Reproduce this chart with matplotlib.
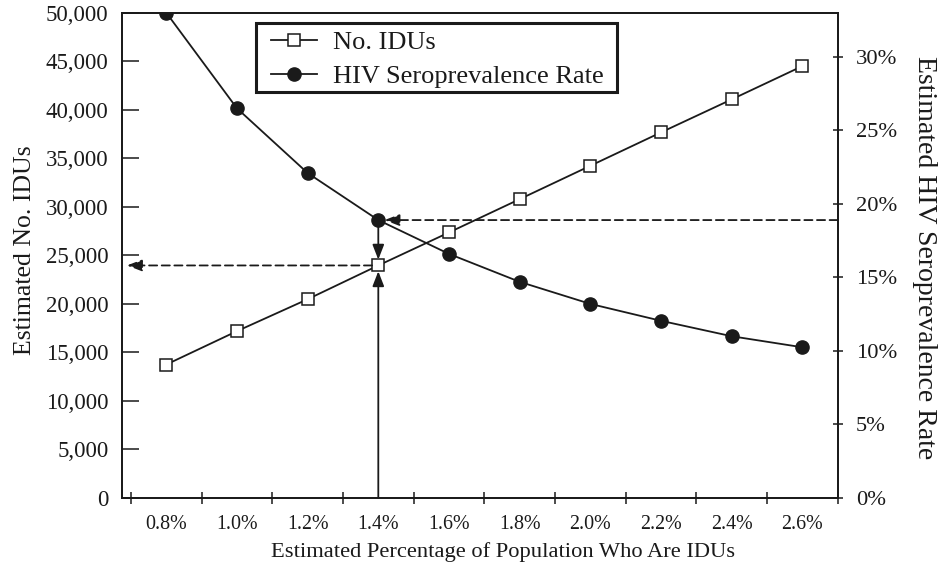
import matplotlib.pyplot as plt
from matplotlib.patches import Rectangle
from matplotlib.ticker import FuncFormatter

plt.rcParams['font.family'] = ['Liberation Serif', 'DejaVu Serif']

# data
pct_labels = ['0.8%', '1.0%', '1.2%', '1.4%', '1.6%', '1.8%', '2.0%', '2.2%', '2.4%', '2.6%']
no_idus = [13750, 17190, 20480, 23960, 27360, 30790, 34230, 37670, 41070, 44500]
hiv_rate = [33.0, 26.5, 22.1, 18.9, 16.6, 14.7, 13.2, 12.05, 11.0, 10.25]
left_ticks = list(range(0, 50001, 5000))
right_ticks = list(range(0, 31, 5))
pick = 3  # the 1.4% column the arrows point at

ink = '#1a1a1a'
x = list(range(len(pct_labels)))

fig = plt.figure(figsize=(9.4, 5.7), dpi=100)
ax = fig.add_axes([0.1295, 0.1263, 0.7617, 0.8514])
ax2 = ax.twinx()

l1, = ax.plot(x, no_idus, color=ink, lw=1.3, marker='s', ms=8,
              mfc='white', mec=ink, mew=1.1, label='No. IDUs')
l2, = ax2.plot(x, hiv_rate, color=ink, lw=1.3, marker='o', ms=9.5,
               mfc=ink, mec=ink, label='HIV Seroprevalence Rate')

ax.set_xlim(-0.63, 9.49)
ax.set_ylim(0, 50000)
ax2.set_ylim(0, 33)

# category labels at centres, tick marks at the boundaries
ax.set_xticks(x)
ax.set_xticklabels(pct_labels)
ax.set_xticks([i - 0.5 for i in range(len(x) + 1)], minor=True)
ax.tick_params(axis='x', which='major', length=0, pad=12, labelsize=14.4, labelcolor=ink)
ax.tick_params(axis='x', which='minor', direction='inout', length=8, width=1.1, color=ink)

ax.set_yticks(left_ticks)
ax.yaxis.set_major_formatter(FuncFormatter(lambda v, p: f'{int(v):,}'))
ax.tick_params(axis='y', direction='in', length=12, width=1.1, pad=9.5,
               labelsize=16.5, color=ink, labelcolor=ink)

ax2.set_yticks(right_ticks)
ax2.yaxis.set_major_formatter(FuncFormatter(lambda v, p: f'{int(v)}%'))
ax2.tick_params(axis='y', direction='inout', length=7.5, width=1.1, pad=9.5,
                labelsize=16.2, color=ink, labelcolor=ink)

for a in (ax, ax2):
    for s in a.spines.values():
        s.set_linewidth(1.3)
        s.set_color(ink)

ax.set_xlabel('Estimated Percentage of Population Who Are IDUs', fontsize=16.2, color=ink)
ax.xaxis.set_label_coords(0.5325, -0.0905)
ax.set_ylabel('Estimated No. IDUs', fontsize=18.5, color=ink)
ax.yaxis.set_label_coords(-0.120, 0.511)
ax2.set_ylabel('Estimated HIV Seroprevalence Rate', fontsize=20, color=ink,
               rotation=270, va='bottom')
ax2.yaxis.set_label_coords(1.104, 0.4956)

# arrows reading off the 1.4% column
head = '-|>,head_length=0.9,head_width=0.35'
dash = (0, (4.5, 2.5))
ax.annotate('', xy=(0.0074, no_idus[pick]), xycoords=('axes fraction', 'data'),
            xytext=(pick, no_idus[pick]), textcoords='data',
            arrowprops=dict(arrowstyle=head, color=ink, lw=1.3, linestyle=dash,
                            shrinkA=4.5, shrinkB=0))
ax2.annotate('', xy=(pick, hiv_rate[pick]), xycoords='data',
             xytext=(1.0, hiv_rate[pick]), textcoords=('axes fraction', 'data'),
             arrowprops=dict(arrowstyle=head, color=ink, lw=1.3, linestyle=dash,
                             shrinkA=0, shrinkB=4.5))
ax2.annotate('', xy=(pick, no_idus[pick]), xycoords=ax.transData,
             xytext=(pick, hiv_rate[pick]), textcoords=ax2.transData,
             arrowprops=dict(arrowstyle=head, color=ink, lw=1.3,
                             shrinkA=5, shrinkB=4.2))
ax2.annotate('', xy=(pick, no_idus[pick]), xycoords=ax.transData,
             xytext=(pick, 0), textcoords=ax.transData,
             arrowprops=dict(arrowstyle=head, color=ink, lw=1.3,
                             shrinkA=0, shrinkB=4.2))

# legend: box drawn by hand so the inner padding can match
ax2.add_patch(Rectangle((0.1876, 0.836), 0.5042, 0.1434, transform=ax2.transAxes,
                        facecolor='white', edgecolor=ink, lw=2.2, zorder=4))
leg = ax2.legend([l1, l2], [l1.get_label(), l2.get_label()], loc='upper left',
                 bbox_to_anchor=(0.2081, 0.9631), fontsize=19, frameon=False,
                 borderpad=0, labelspacing=0.39, handlelength=1.74,
                 handletextpad=0.62, borderaxespad=0)
leg.set_zorder(5)
for t in leg.get_texts():
    t.set_color(ink)

fig.savefig('out.png', dpi=100)
